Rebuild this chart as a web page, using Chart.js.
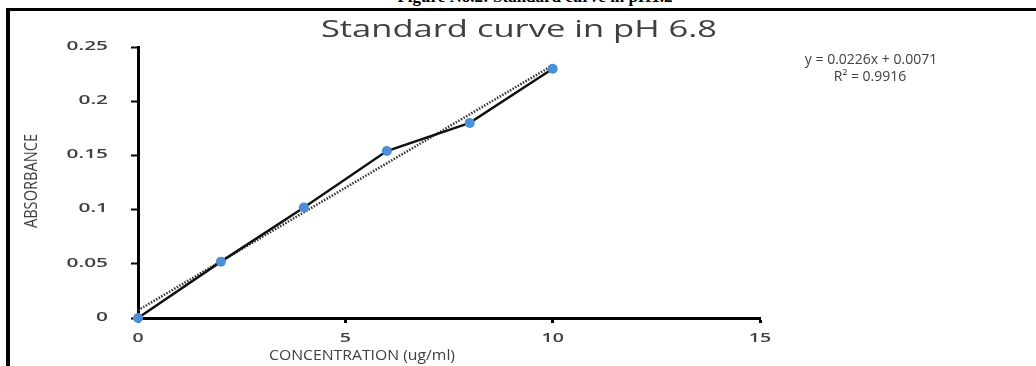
<!DOCTYPE html>
<html>
<head>
<meta charset="utf-8">
<script src="https://cdn.jsdelivr.net/npm/chart.js@4"></script>
<style>
  html, body { margin: 0; padding: 0; background: #fff; overflow: hidden; }
  #wrap { position: absolute; left: 0; top: 0; width: 1036px; height: 366px; }
  #frame { position: absolute; left: 6px; top: 8px; width: 1040px; height: 400px;
           border-top: 3px solid #000; border-left: 4px solid #000; pointer-events: none; }
  #heading { position: absolute; left: 0; width: 1070px; top: -11px; text-align: center;
             font: bold 17px/16px "Liberation Serif", "Times New Roman", serif; color: #000; }
</style>
</head>
<body>
<div id="heading">Figure No.2: Standard curve in pH1.2</div>
<div id="wrap"><canvas id="chart" width="1036" height="366"></canvas></div>
<div id="frame"></div>
<script>
// concentration (ug/ml) and absorbance
const concentration = [0, 2, 4, 6, 8, 10];
const absorbance = [0, 0.052, 0.102, 0.154, 0.180, 0.230];

// linear trendline end points (y = 0.0226x + 0.0071)
const trendX = [0, 10];
const trendY = [0.0071, 0.2331];

const xTickLabels = ['0', '5', '10', '15'];
const yTickLabels = ['0', '0.05', '0.1', '0.15', '0.2', '0.25'];
const equationLines = ['y = 0.0226x + 0.0071', 'R² = 0.9916'];
const chartTitle = 'Standard curve in pH 6.8';
const xTitle = 'CONCENTRATION (ug/ml)';
const yTitle = 'ABSORBANCE';

const textColor = '#404040';
const fontFamily = '"Open Sans", sans-serif';

// the source picture is stretched sideways, so some text is widened
function drawText(ctx, text, x, y, font, sx, align) {
    ctx.save();
    ctx.translate(x, y);
    ctx.scale(sx, 1);
    ctx.font = font;
    ctx.textAlign = align || 'center';
    ctx.textBaseline = 'middle';
    ctx.fillText(text, 0, 0);
    ctx.restore();
}

const labelsPlugin = {
    id: 'labels',
    afterDraw(chart) {
        const ctx = chart.ctx;
        const xs = chart.scales.x;
        const ys = chart.scales.y;
        ctx.save();
        ctx.fillStyle = textColor;

        drawText(ctx, chartTitle, 519, 30, '23px ' + fontFamily, 1.5);

        drawText(ctx, equationLines[0], 871, 60, '14px ' + fontFamily, 1);
        drawText(ctx, equationLines[1], 870, 77, '14px ' + fontFamily, 1);

        drawText(ctx, xTitle, 362, 356, '15px ' + fontFamily, 1.05);

        // tick labels, placed by the chart's own scales
        ys.ticks.forEach((t, i) => {
            drawText(ctx, yTickLabels[i], 108, ys.getPixelForValue(t.value) - 1,
                '600 13px ' + fontFamily, 1.6, 'right');
        });
        xs.ticks.forEach((t, i) => {
            drawText(ctx, xTickLabels[i], xs.getPixelForValue(t.value), 338,
                '600 13px ' + fontFamily, 1.5);
        });

        // narrow, tall y title
        ctx.translate(32, 181);
        ctx.rotate(-Math.PI / 2);
        drawText(ctx, yTitle, 0, 0, '19px ' + fontFamily, 0.77);
        ctx.restore();
    }
};

new Chart(document.getElementById('chart').getContext('2d'), {
    type: 'scatter',
    data: {
        datasets: [
            {
                label: 'Absorbance',
                data: concentration.map((x, i) => ({ x: x, y: absorbance[i] })),
                showLine: true,
                borderColor: '#111',
                borderWidth: 2.5,
                pointRadius: 5,
                pointBackgroundColor: '#4a8fd8',
                pointBorderColor: '#4a8fd8',
                pointBorderWidth: 0,
                clip: false,
                order: 0
            },
            {
                label: 'Linear',
                data: trendX.map((x, i) => ({ x: x, y: trendY[i] })),
                showLine: true,
                borderColor: '#333',
                borderWidth: 2.5,
                borderDash: [1.5, 1.5],
                pointRadius: 0,
                clip: false,
                order: 1
            }
        ]
    },
    options: {
        responsive: false,
        animation: false,
        layout: { padding: { top: 47, right: 276, left: 0, bottom: 0 } },
        plugins: {
            legend: { display: false },
            title: { display: false },
            tooltip: { enabled: false }
        },
        scales: {
            x: {
                type: 'linear',
                min: 0,
                max: 15,
                ticks: { stepSize: 5, color: 'rgba(0,0,0,0)' },
                grid: { drawOnChartArea: false, drawTicks: true, tickLength: 5, color: '#000', tickWidth: 3 },
                border: { color: '#000', width: 3 },
                afterFit(scale) { scale.height = 48; }
            },
            y: {
                min: 0,
                max: 0.25,
                ticks: { stepSize: 0.05, color: 'rgba(0,0,0,0)' },
                grid: { drawOnChartArea: false, drawTicks: true, tickLength: 7, color: '#000', tickWidth: 2 },
                border: { color: '#000', width: 3 },
                afterFit(scale) { scale.width = 138; }
            }
        }
    },
    plugins: [labelsPlugin]
});
</script>
</body>
</html>
